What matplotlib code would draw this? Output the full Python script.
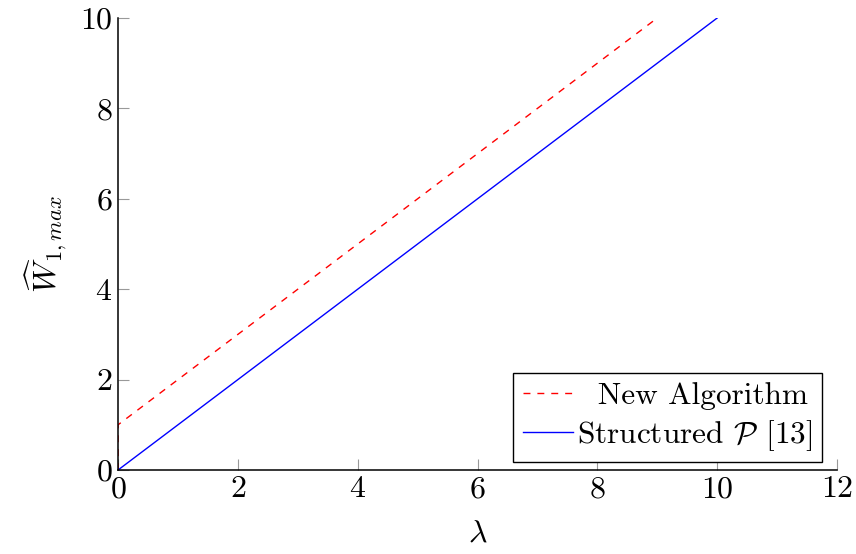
import matplotlib
matplotlib.use("Agg")
import matplotlib.pyplot as plt

plt.rcParams['font.family'] = 'cmr10'
plt.rcParams['mathtext.fontset'] = 'cm'
plt.rcParams['axes.formatter.use_mathtext'] = True

# data
lam_new = [0, 0, 9]
w_new = [0, 1, 10]
lam_struct = [0, 10]
w_struct = [0, 10]
xticks = [0, 2, 4, 6, 8, 10, 12]
yticks = [0, 2, 4, 6, 8, 10]

fig = plt.figure(figsize=(8.56, 5.54), dpi=100)
ax = fig.add_axes([0.1379, 0.1516, 0.8399, 0.8159])

ax.plot(lam_new, w_new, color='red', lw=1.0, dashes=(5, 5), label='  New Algorithm')
ax.plot(lam_struct, w_struct, color='blue', lw=1.0, label=r'Structured $\mathcal{P}$ [13]')

ax.set_xlim(0, 12)
ax.set_ylim(0, 10)
ax.set_xticks(xticks)
ax.set_yticks(yticks)
ax.set_xticklabels([f'${t}$' for t in xticks])
ax.set_yticklabels([f'${t}$' for t in yticks])

for s in ['top', 'right']:
    ax.spines[s].set_visible(False)
for s in ['left', 'bottom']:
    ax.spines[s].set_linewidth(1.1)
ax.tick_params(direction='in', length=8, width=0.8, color='#999999',
               labelsize=23, pad=4)

ax.set_xlabel(r'$\lambda$', fontsize=23, labelpad=12)
ax.set_ylabel(r'$\widehat{W}_{1,max}$', fontsize=23, labelpad=8)

leg = ax.legend(loc='lower right', bbox_to_anchor=(0.979, 0.018), fontsize=22.5,
                frameon=True, fancybox=False, edgecolor='black', framealpha=1,
                handlelength=1.6, handletextpad=0.15, borderpad=0.3,
                labelspacing=0.25, borderaxespad=0)
leg.get_frame().set_linewidth(1.0)

fig.savefig('out.png', dpi=100)
